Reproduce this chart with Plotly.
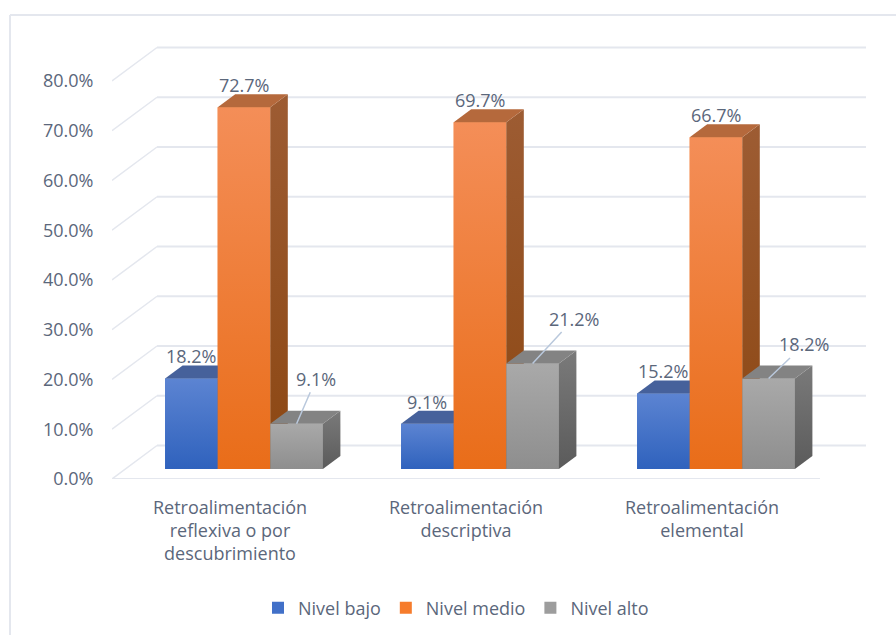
import plotly.graph_objects as go

categories = ["Retroalimentación<br>reflexiva o por<br>descubrimiento",
              "Retroalimentación<br>descriptiva",
              "Retroalimentación<br>elemental"]
series_names = ["Nivel bajo", "Nivel medio", "Nivel alto"]
nivel_bajo = [18.2, 9.1, 15.2]
nivel_medio = [72.7, 69.7, 66.7]
nivel_alto = [9.1, 21.2, 18.2]
y_ticks = [0, 10, 20, 30, 40, 50, 60, 70, 80]

W, H = 896, 635
L, R, T, B = 112, 870, 40, 479      # plot area in page pixels
PX_X = 236.0                        # pixels per category
PX_Y = 4.975                        # pixels per percentage point
x_min = -0.5
x_max = x_min + (R - L) / PX_X
y_max = (B - T) / PX_Y

def ux(px): return px / PX_X
def uy(px): return px / PX_Y

TEXT = "#5b677b"
GRID = "#e4e7ee"
FONT = "Open Sans"
FS = 18

front = ["#5c84d2", "#f48e58", "#a9a9a9"]
front_bot = ["#2f62bd", "#e96d19", "#8e8e8e"]
front_mid = ["#4170c8", "#f67c2c", "#9d9d9d"]
side = ["#3d5c9c", "#9d5c33", "#7a7a7a"]
side_bot = ["#23488d", "#8c4712", "#5b5b5b"]
top_c = ["#46619b", "#b5693c", "#838383"]

series = [nivel_bajo, nivel_medio, nivel_alto]
bar_w = ux(52.6)
shift_x = ux(14)
base = uy(10)
dx, dy = ux(17.5), uy(13)
wall_dx, wall_dy = ux(45), uy(33.5)

fig = go.Figure()

for name, vals, col in zip(series_names, series, front_mid):
    fig.add_trace(go.Bar(x=[c + shift_x for c in range(3)], y=vals, base=base, name=name,
                         marker=dict(color=col, line_width=0), hoverinfo="skip"))

def face(xs, ys, c_low, c_high):
    fig.add_trace(go.Scatter(
        x=xs, y=ys, mode="none", fill="toself", showlegend=False, hoverinfo="skip",
        fillgradient=dict(type="vertical", colorscale=[[0, c_low], [1, c_high]])))

for s, vals in enumerate(series):
    for c, v in enumerate(vals):
        xl = c + shift_x + (s - 1.5) * bar_w
        xr = xl + bar_w
        t = base + v
        face([xl, xr, xr, xl, xl], [base, base, t, t, base], front_bot[s], front[s])
        face([xr, xr + dx, xr + dx, xr, xr], [base, base + dy, t + dy, t, base], side_bot[s], side[s])
        face([xl, xr, xr + dx, xl + dx, xl], [t, t, t + dy, t + dy, t], top_c[s], top_c[s])

shapes = []
for v in y_ticks:
    shapes.append(dict(type="line", layer="below", xref="x", yref="y",
                       x0=x_min, y0=v, x1=x_min + wall_dx, y1=v + wall_dy,
                       line=dict(color=GRID, width=1.5)))
    shapes.append(dict(type="line", layer="below", xref="x", yref="y",
                       x0=x_min + wall_dx, y0=v + wall_dy, x1=x_min + ux(866 - L), y1=v + wall_dy,
                       line=dict(color=GRID, width=2)))
shapes.append(dict(type="line", layer="below", xref="x", yref="y",
                   x0=x_min, y0=0, x1=2.5, y1=0, line=dict(color=GRID, width=2)))

def pxx(p): return (p - L) / (R - L)
def pxy(p): return (B - p) / (B - T)
shapes.append(dict(type="line", xref="paper", yref="paper", x0=pxx(10), x1=pxx(896),
                   y0=pxy(15), y1=pxy(15), line=dict(color=GRID, width=2)))
shapes.append(dict(type="line", xref="paper", yref="paper", x0=pxx(10), x1=pxx(10),
                   y0=pxy(15), y1=pxy(635), line=dict(color=GRID, width=2)))

# label offsets from top-centre of each bar, pixels (others sit straight above the bar)
label_offsets = {
    (2, 0): (19.5, -45),
    (2, 1): (41.5, -45),
    (2, 2): (35.5, -34),
}
annotations = []
for s, vals in enumerate(series):
    for c, v in enumerate(vals):
        xc = c + shift_x + (s - 1) * bar_w
        t = base + v
        txt = f"{v:.1f}%"
        if (s, c) in label_offsets:
            ox, oy = label_offsets[(s, c)]
            annotations.append(dict(x=xc, y=t, xref="x", yref="y", text=txt, showarrow=True,
                                    ax=ox, ay=oy, arrowhead=0, arrowwidth=1.5, arrowcolor="#b9c8dc",
                                    font=dict(family=FONT, size=FS, color=TEXT)))
        else:
            annotations.append(dict(x=xc, y=t, xref="x", yref="y", text=txt, showarrow=False,
                                    xanchor="center", yanchor="middle", yshift=22,
                                    font=dict(family=FONT, size=FS, color=TEXT)))

fig.update_layout(
    width=W, height=H, autosize=False,
    margin=dict(l=L, r=W - R, t=T, b=H - B, pad=0),
    paper_bgcolor="white", plot_bgcolor="rgba(0,0,0,0)",
    barmode="group", bargap=1 - 3 * bar_w,
    font=dict(family=FONT, size=FS, color=TEXT),
    shapes=shapes, annotations=annotations,
    legend=dict(orientation="h", x=456 / W, xanchor="center", xref="container",
                y=(H - 608) / H, yanchor="middle", yref="container",
                font=dict(family=FONT, size=FS, color=TEXT),
                traceorder="normal"),
    xaxis=dict(range=[x_min, x_max], tickmode="array", tickvals=[0, 1, 2], ticktext=categories,
               showgrid=False, zeroline=False, showline=False,
               ticks="outside", ticklen=12, tickcolor="rgba(0,0,0,0)"),
    yaxis=dict(range=[0, y_max], tickmode="array", tickvals=y_ticks,
               ticktext=[f"{v:.1f}%" for v in y_ticks],
               showgrid=False, zeroline=False, showline=False,
               ticks="outside", ticklen=14, tickcolor="rgba(0,0,0,0)"),
)

fig.write_html("out.html", config=dict(displayModeBar=False),
               post_script="document.body.style.margin='0';document.body.style.overflow='hidden';")
